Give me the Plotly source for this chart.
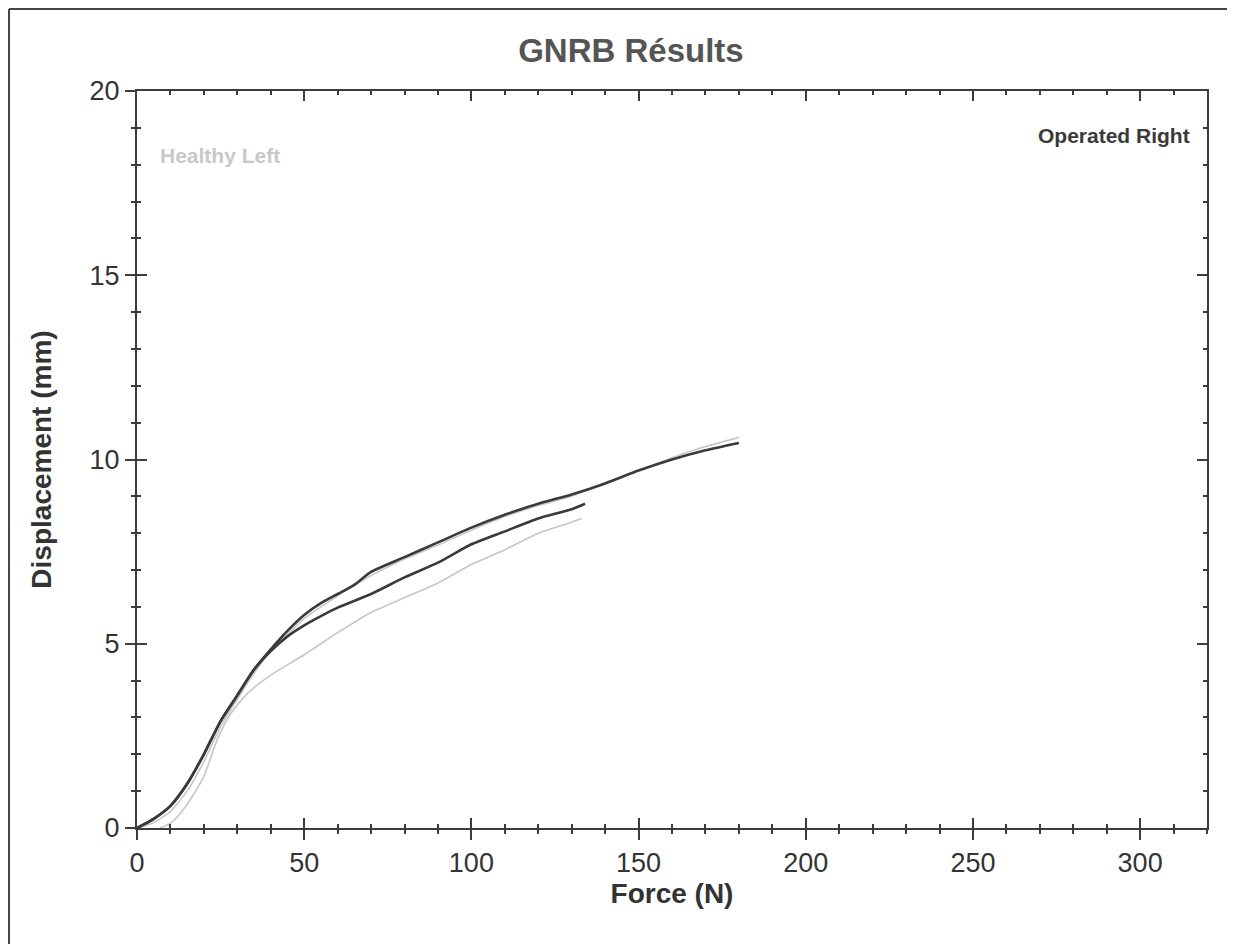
import plotly.graph_objects as go

# ---- data ----
op_a_force = [0, 5, 10, 15, 20, 25, 30, 35, 40, 45, 50, 55, 60, 65, 70, 80, 90, 100, 110, 120, 130, 140, 150, 160, 170, 180]
op_a_disp = [0, 0.25, 0.6, 1.2, 2.0, 2.9, 3.6, 4.3, 4.85, 5.35, 5.78, 6.1, 6.35, 6.6, 6.95, 7.35, 7.75, 8.15, 8.5, 8.8, 9.05, 9.35, 9.7, 10.0, 10.25, 10.45]

op_b_force = [0, 5, 10, 15, 20, 25, 30, 35, 40, 45, 50, 55, 60, 70, 80, 90, 100, 110, 120, 130, 134]
op_b_disp = [0, 0.25, 0.6, 1.2, 2.0, 2.9, 3.6, 4.3, 4.8, 5.2, 5.5, 5.75, 5.98, 6.35, 6.8, 7.2, 7.7, 8.05, 8.4, 8.65, 8.8]

hl_a_force = [0, 5, 10, 15, 20, 25, 30, 35, 40, 45, 50, 60, 70, 80, 90, 100, 110, 120, 130, 140, 150, 160, 170, 180]
hl_a_disp = [0, 0.15, 0.45, 1.0, 1.8, 2.75, 3.5, 4.2, 4.8, 5.25, 5.68, 6.3, 6.85, 7.3, 7.68, 8.08, 8.45, 8.75, 9.0, 9.37, 9.7, 10.05, 10.35, 10.6]

hl_b_force = [7, 10, 13, 16, 20, 24, 28, 33, 40, 50, 60, 70, 80, 90, 100, 110, 120, 130, 133]
hl_b_disp = [0, 0.13, 0.4, 0.78, 1.4, 2.4, 3.1, 3.65, 4.15, 4.7, 5.3, 5.85, 6.25, 6.65, 7.15, 7.55, 8.0, 8.3, 8.4]

x_range = [0, 320]
y_range = [0, 20]

title_text = "GNRB Résults"
x_title = "Force (N)"
y_title = "Displacement (mm)"
healthy_label = "Healthy Left"
operated_label = "Operated Right"

# ---- figure ----
FONT = "Liberation Sans, Arial, sans-serif"
DARK = "#3a3a3a"
LIGHT = "#c6c6c6"
AXIS = "#3c3c3c"

fig = go.Figure()
for fx, dy in [(hl_a_force, hl_a_disp), (hl_b_force, hl_b_disp)]:
    fig.add_trace(go.Scatter(x=fx, y=dy, mode="lines", line=dict(color=LIGHT, width=1.6, shape="spline", smoothing=0.6),
                             showlegend=False, hoverinfo="skip"))
for fx, dy in [(op_a_force, op_a_disp), (op_b_force, op_b_disp)]:
    fig.add_trace(go.Scatter(x=fx, y=dy, mode="lines", line=dict(color=DARK, width=2.6, shape="spline", smoothing=0.6),
                             showlegend=False, hoverinfo="skip"))
# empty trace so the overlay axes (crossing ticks) render
fig.add_trace(go.Scatter(x=[], y=[], xaxis="x2", yaxis="y2", showlegend=False))

tickfont = dict(family=FONT, size=27, color="#333333")
titlefont = dict(family=FONT, size=28, color="#333333")
common = dict(showgrid=False, zeroline=False, showline=True, linecolor=AXIS, linewidth=2,
              tickcolor=AXIS, tickwidth=2)

fig.update_layout(
    width=1219, height=936,
    margin=dict(l=129, r=20, t=83, b=116),
    paper_bgcolor="white", plot_bgcolor="white",
    title=dict(text=f"<b>{title_text}</b>", x=0.511, xanchor="center", y=0.955, yanchor="middle",
               font=dict(family=FONT, size=33, color="#555555")),
    xaxis=dict(range=x_range, dtick=50, tick0=0, ticks="outside", ticklen=10, mirror=True,
               minor=dict(dtick=10, ticks="outside", ticklen=4, tickcolor=AXIS, tickwidth=2),
               tickfont=tickfont, title=dict(text=f"<b>{x_title}</b>", font=titlefont, standoff=0),
               **common),
    yaxis=dict(range=y_range, dtick=5, tick0=0, ticks="outside", ticklen=10, mirror=True,
               minor=dict(dtick=1, ticks="outside", ticklen=4, tickcolor=AXIS, tickwidth=2),
               tickfont=tickfont, title=dict(text=f"<b>{y_title}</b>", font=titlefont, standoff=30),
               **common),
    xaxis2=dict(range=x_range, dtick=50, tick0=0, ticks="inside", ticklen=10, mirror="ticks", overlaying="x",
                anchor="y2", side="bottom", showticklabels=False,
                minor=dict(dtick=10, ticks="inside", ticklen=4, tickcolor=AXIS, tickwidth=2), **common),
    yaxis2=dict(range=y_range, dtick=5, tick0=0, ticks="inside", ticklen=10, mirror="ticks", overlaying="y",
                anchor="x2", side="left", showticklabels=False,
                minor=dict(dtick=1, ticks="inside", ticklen=4, tickcolor=AXIS, tickwidth=2), **common),
    annotations=[
        dict(text=f"<b>{healthy_label}</b>", xref="paper", yref="paper", x=0.0196, y=0.913,
             xanchor="left", yanchor="middle", showarrow=False,
             font=dict(family=FONT, size=21, color="#c8c8c8")),
        dict(text=f"<b>{operated_label}</b>", xref="paper", yref="paper", x=0.986, y=0.939,
             xanchor="right", yanchor="middle", showarrow=False,
             font=dict(family=FONT, size=21, color="#3a3a3a")),
    ],
    shapes=[
        dict(type="line", xref="paper", yref="paper", x0=-0.1196, x1=-0.1196, y0=-0.2, y1=1.1113,
             line=dict(color="#444444", width=2)),
        dict(type="line", xref="paper", yref="paper", x0=-0.1196, x1=1.1, y0=1.1113, y1=1.1113,
             line=dict(color="#444444", width=2)),
    ],
)

fig.write_html("out.html")
